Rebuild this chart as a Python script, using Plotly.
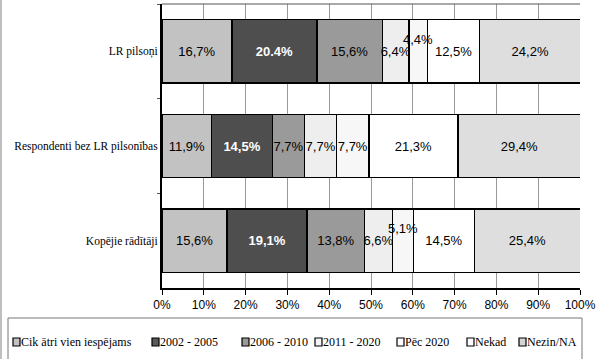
import plotly.graph_objects as go

# ---- data ----
categories = ["LR pilsoņi", "Respondenti bez LR pilsonības", "Kopējie rādītāji"]
series_names = ["Cik ātri vien iespējams", "2002 - 2005", "2006 - 2010",
                "2011 - 2020", "Pēc 2020", "Nekad", "Nezin/NA"]
cik_atri = [16.7, 11.9, 15.6]
y2002_2005 = [20.4, 14.5, 19.1]
y2006_2010 = [15.6, 7.7, 13.8]
y2011_2020 = [6.4, 7.7, 6.6]
pec_2020 = [4.4, 7.7, 5.1]
nekad = [12.5, 21.3, 14.5]
nezin = [24.2, 29.4, 25.4]
series_values = [cik_atri, y2002_2005, y2006_2010, y2011_2020, pec_2020, nekad, nezin]
tick_values = [0, 10, 20, 30, 40, 50, 60, 70, 80, 90, 100]
tick_labels = ["0%", "10%", "20%", "30%", "40%", "50%", "60%", "70%", "80%", "90%", "100%"]

# ---- style ----
colors = ["#c2c2c2", "#4e4e4e", "#9a9a9a", "#eeeeee", "#f7f7f7", "#ffffff", "#dedede"]
swatch_colors = ["#c2c2c2", "#5a5a5a", "#9a9a9a", "#f4f4f4", "#ffffff", "#ffffff", "#d4d4d4"]
raised = {4: [0, 2]}  # series index -> rows whose label is lifted


def fmt(v, sep=","):
    return f"{v:.1f}".replace(".", sep) + "%"


W, H = 600, 359
L, R, T, B = 162, 580, 4, 288


def px(x):
    return (x - L) / (R - L)


def py(y):
    return (B - y) / (B - T)


fig = go.Figure()
annotations = []
cum = [0.0] * len(categories)
for si, (name, vals) in enumerate(zip(series_names, series_values)):
    texts = [fmt(v, "." if (si == 1 and i == 0) else ",") for i, v in enumerate(vals)]
    positions = ["none" if i in raised.get(si, []) else "inside" for i in range(len(vals))]
    dark = si == 1
    fig.add_trace(go.Bar(
        name=name, x=vals, y=categories, orientation="h",
        marker=dict(color=colors[si], line=dict(color="black", width=1.5)),
        text=texts, textposition=positions, insidetextanchor="middle",
        constraintext="none", textangle=0,
        textfont=dict(family="Liberation Sans, Arial", size=13,
                      color="white" if dark else "black",
                      weight="bold" if dark else "normal"),
        showlegend=False, hoverinfo="skip",
    ))
    for i in raised.get(si, []):
        annotations.append(dict(x=cum[i] + vals[i] / 2, y=categories[i], xref="x", yref="y",
                                text=texts[i], showarrow=False, yshift=12,
                                font=dict(family="Liberation Sans, Arial", size=13, color="black")))
    cum = [c + v for c, v in zip(cum, vals)]

shapes = []
# top border of plot
shapes.append(dict(type="line", xref="paper", yref="paper", x0=0, x1=1, y0=1, y1=1,
                   line=dict(color="#555", width=1)))
# left image edge line
shapes.append(dict(type="line", xref="paper", yref="paper", x0=px(1), x1=px(1), y0=py(0), y1=py(359),
                   line=dict(color="#aaa", width=1.5)))
# legend box
shapes.append(dict(type="rect", xref="paper", yref="paper", x0=px(8), x1=px(582), y0=py(318), y1=py(372),
                   line=dict(color="#777", width=1), fillcolor="white", layer="above"))
swatch_x = [13, 152, 242, 315, 397, 467, 519]
ly = 342
for si, name in enumerate(series_names):
    sx = swatch_x[si]
    shapes.append(dict(type="rect", xref="paper", yref="paper", x0=px(sx), x1=px(sx + 7),
                       y0=py(ly - 4), y1=py(ly + 4), fillcolor=swatch_colors[si],
                       line=dict(color="black", width=1.2), layer="above"))
    annotations.append(dict(x=px(sx + 6), y=py(ly), xref="paper", yref="paper", text=name,
                            showarrow=False, xanchor="left", yanchor="middle",
                            font=dict(family="Liberation Serif, Times New Roman", size=12, color="black")))

fig.update_layout(
    width=W, height=H, margin=dict(l=L, r=W - R, t=T, b=H - B),
    paper_bgcolor="white", plot_bgcolor="white",
    barmode="stack", bargap=0.33,
    shapes=shapes, annotations=annotations,
    xaxis=dict(range=[0, 100], tickvals=tick_values, ticktext=tick_labels,
               showgrid=True, gridcolor="#999", gridwidth=1,
               showline=True, linecolor="black", linewidth=1.5,
               ticks="outside", ticklen=5, tickcolor="black",
               tickfont=dict(family="Liberation Sans, Arial", size=12, color="black"),
               zeroline=False, fixedrange=True),
    yaxis=dict(type="category", autorange="reversed",
               showline=True, linecolor="black", linewidth=2,
               ticks="outside", tickson="boundaries", ticklen=3, tickcolor="#555",
               tickfont=dict(family="Liberation Serif, Times New Roman", size=11.5, color="black"),
               showgrid=False, fixedrange=True),
)

fig.write_html("out.html", config={"displayModeBar": False},
               post_script="document.body.style.margin='0';document.body.style.overflow='hidden';")
